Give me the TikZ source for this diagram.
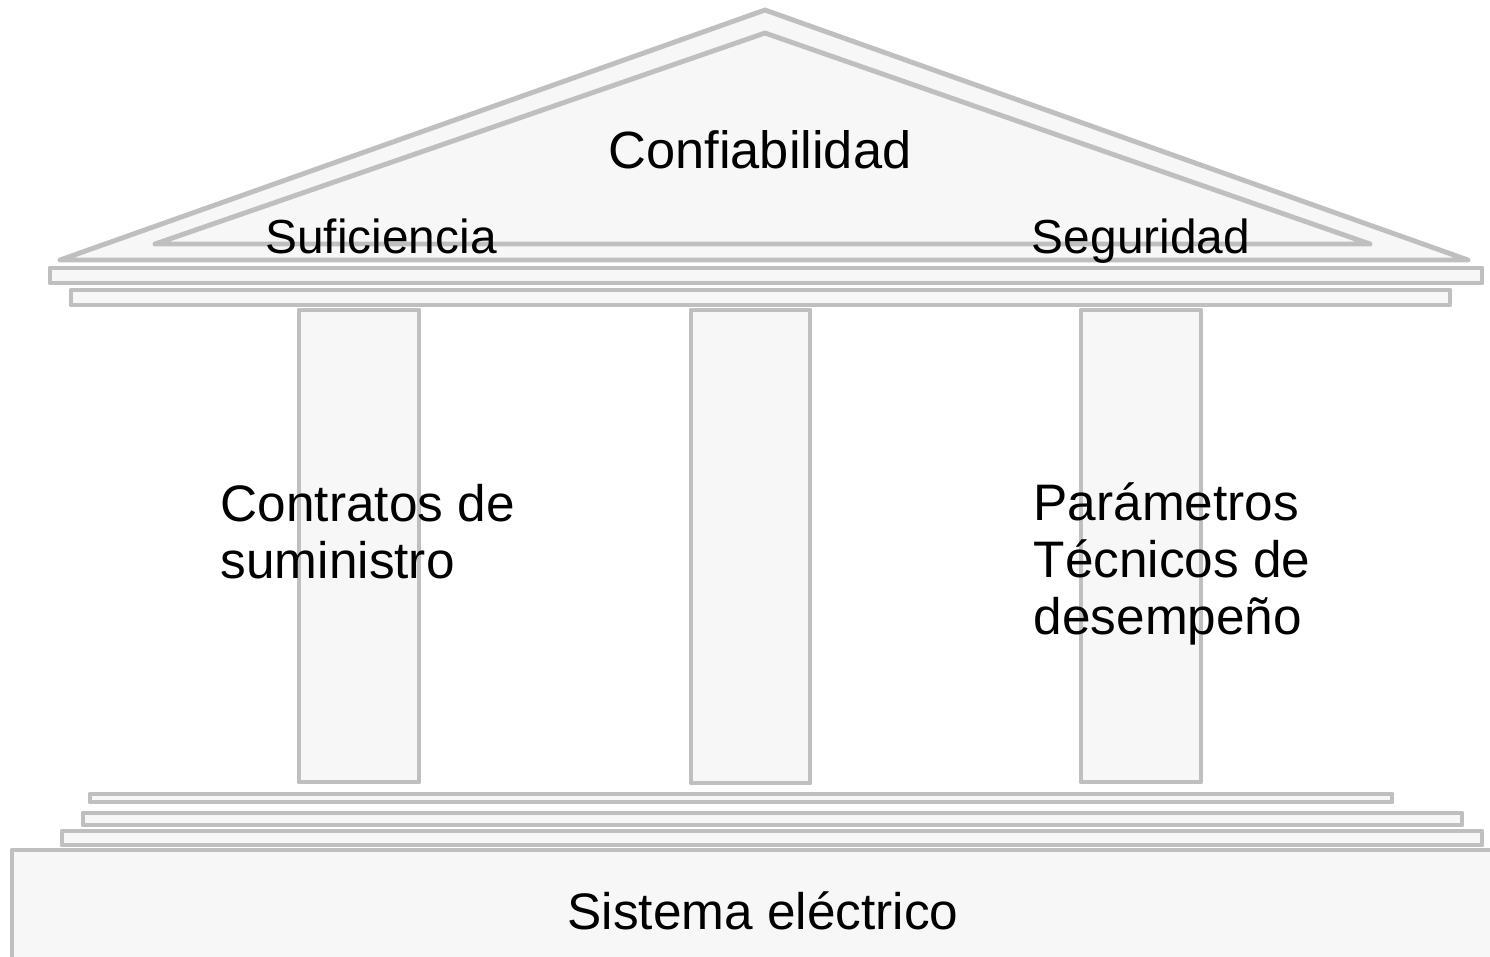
\documentclass[tikz,border=0pt]{standalone}
\usepackage{fontspec}
\setmainfont{Liberation Sans}
\begin{document}
\begin{tikzpicture}[x=0.01cm, y=-0.01cm]
\tikzset{piedra/.style={draw=black!25, line width=1.4pt, fill=black!3, line join=round}}
\tikzset{rotulo/.style={font=\fontsize{14.6}{16.2}\selectfont, inner sep=0pt}}
\tikzset{rotulochico/.style={font=\fontsize{13.6}{16.2}\selectfont, inner sep=0pt, anchor=base}}
\useasboundingbox (0,0) rectangle (1490,956);
% techo
\draw[piedra] (60,260) -- (765,10) -- (1468,260) -- cycle;
\draw[piedra] (155,244) -- (765,33) -- (1370,244) -- cycle;
\draw[piedra] (50,268) rectangle (1482,283);
\draw[piedra] (71,290) rectangle (1450,305);
% columnas
\draw[piedra] (299,310) rectangle (419,782);
\draw[piedra] (691,310) rectangle (810,783);
\draw[piedra] (1081,310) rectangle (1201,782);
% base
\draw[piedra] (90,794) rectangle (1392,802);
\draw[piedra] (83,813) rectangle (1462,825);
\draw[piedra] (62,831) rectangle (1482,845);
\draw[piedra] (12,850) rectangle (1530,1000);
% textos
\node[rotulo, anchor=base, font=\fontsize{14.9}{16.2}\selectfont] (conf) at (760,168) {Confiabilidad};
\node[rotulochico] (sufi) at (381,253) {Suficiencia};
\node[rotulochico] (segu) at (1141,253) {Seguridad};
\node[rotulo, anchor=west, align=left] (cont) at (220,532) {Contratos de\\suministro};
\node[rotulo, anchor=west, align=left] (para) at (1033,564) {Parámetros\\Técnicos de\\desempeño};
\node[rotulo, anchor=base] (sist) at (763,929) {Sistema eléctrico};
\end{tikzpicture}
\end{document}
